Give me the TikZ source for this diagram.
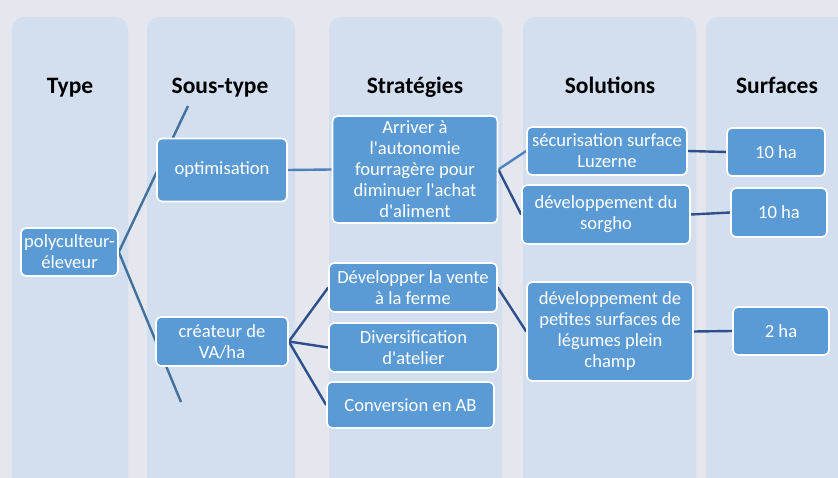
\documentclass[tikz,border=0pt]{standalone}
\usepackage{fontspec}
\setmainfont{Carlito}[Ligatures=TeXOff]
\pgfdeclarelayer{back}
\pgfdeclarelayer{mid}
\pgfsetlayers{back,mid,main}
\definecolor{bgc}{HTML}{E4E8EE}
\definecolor{colc}{HTML}{D3DEEE}
\definecolor{boxc}{HTML}{5B9BD5}
\definecolor{linea}{HTML}{41719C}
\definecolor{lineb}{HTML}{4F81BD}
\definecolor{linec}{HTML}{2F4E8C}
\tikzset{
  col/.style={fill=colc, draw=none, rounded corners=12pt},
  hdr/.style={font=\fontsize{23.5}{27}\selectfont\bfseries, text=black},
  box/.style={fill=boxc, draw=white, line width=1.6pt, rounded corners=5pt, text=white,
    align=center, inner sep=1pt, font=\fontsize{18.6}{21}\selectfont},
  con/.style={line width=2.4pt},
}
\begin{document}
\begin{tikzpicture}[x=1pt,y=-1pt]
\useasboundingbox (0,0) rectangle (838,478);
\clip (0,0) rectangle (838,478);
\begin{pgfonlayer}{back}
\fill[bgc] (0,0) rectangle (838,478);
\fill[col] (12,17) rectangle (128,500);
\fill[col] (147,17) rectangle (295,500);
\fill[col] (329,17) rectangle (502,500);
\fill[col] (523,17) rectangle (696,500);
\fill[col] (706,17) rectangle (860,500);
\end{pgfonlayer}

\node[hdr, anchor=base] (h-type) at (70,94) {Type};
\node[hdr, anchor=base] (h-sous) at (220,94) {Sous-type};
\node[hdr, anchor=base] (h-strat) at (415,94) {Stratégies};
\node[hdr, anchor=base] (h-sol) at (610,94) {Solutions};
\node[hdr, anchor=base] (h-surf) at (777,94) {Surfaces};

\node[box, minimum width=97pt, minimum height=48pt] (poly) at (69.5,252) {polyculteur-\\éleveur};
\node[box, minimum width=130pt, minimum height=63pt] (opt) at (222,170) {optimisation};
\node[box, minimum width=132pt, minimum height=49pt] (crea) at (222,341.5) {créateur de\\VA/ha};
\node[box, minimum width=165pt, minimum height=107pt] (arr) at (415,169.5) {Arriver à\\l'autonomie\\fourragère pour\\diminuer l'achat\\d'aliment};
\node[box, minimum width=168pt, minimum height=49pt] (dev) at (413,287.5) {Développer la vente\\à la ferme};
\node[box, minimum width=169pt, minimum height=49pt] (div) at (413.5,347.5) {Diversification\\d'atelier};
\node[box, minimum width=167pt, minimum height=46pt] (conv) at (410.5,405) {Conversion en AB};
\node[box, minimum width=160pt, minimum height=48pt] (secu) at (607,151) {sécurisation surface\\Luzerne};
\node[box, minimum width=168pt, minimum height=59pt] (sorg) at (606,214.5) {développement du\\sorgho};
\node[box, minimum width=166pt, minimum height=99pt] (pet) at (610,331.5) {développement de\\petites surfaces de\\légumes plein\\champ};
\node[box, minimum width=98pt, minimum height=48pt] (ha1) at (776,152) {10 ha};
\node[box, minimum width=96pt, minimum height=49pt] (ha2) at (779,212.5) {10 ha};
\node[box, minimum width=96pt, minimum height=48pt] (ha3) at (781,331) {2 ha};

\coordinate (t1) at (188,106);
\coordinate (t2) at (181,402);

\begin{pgfonlayer}{mid}
\draw[con, linea] (poly.east) -- (t1);
\draw[con, linea] (poly.east) -- (t2);
\draw[con, lineb] (opt.east) -- (arr.west);
\draw[con, lineb] (arr.east) -- (secu.west);
\draw[con, linec] (arr.east) -- (sorg.west);
\draw[con, linec] (crea.east) -- (dev.west);
\draw[con, linec] (crea.east) -- (div.west);
\draw[con, linec] (crea.east) -- (conv.west);
\draw[con, linec] (dev.east) -- (pet.west);
\draw[con, linec] (secu.east) -- (ha1.west);
\draw[con, linec] (sorg.east) -- (ha2.west);
\draw[con, linec] (pet.east) -- (ha3.west);
\end{pgfonlayer}
\end{tikzpicture}
\end{document}
